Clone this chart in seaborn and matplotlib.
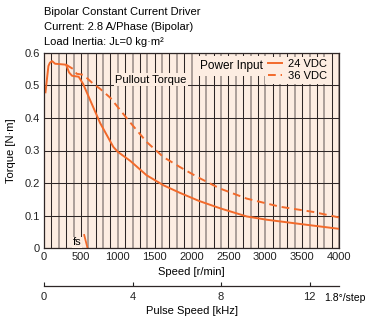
import matplotlib
matplotlib.use("Agg")
import matplotlib.pyplot as plt
import seaborn as sns
import pandas as pd
from matplotlib.ticker import MultipleLocator, FuncFormatter

# data
speed_24 = [20, 45, 60, 80, 110, 150, 300, 340, 380, 470, 530, 620, 760, 940,
            1000, 1170, 1390, 1620, 1840, 2100, 2390, 2750, 3020, 3470, 4000]
torque_24 = [0.479, 0.53, 0.56, 0.57, 0.575, 0.567, 0.564, 0.54, 0.53, 0.527, 0.505,
             0.458, 0.385, 0.311, 0.296, 0.268, 0.224, 0.193, 0.17, 0.145, 0.122,
             0.097, 0.087, 0.074, 0.059]
speed_36 = [300, 400, 443, 533, 669, 760, 900, 1166, 1393, 1618, 1844, 2092,
            2386, 2749, 3200, 3650, 4000]
torque_36 = [0.564, 0.55, 0.536, 0.533, 0.505, 0.49, 0.462, 0.387, 0.326, 0.28,
             0.249, 0.217, 0.183, 0.152, 0.127, 0.111, 0.094]
fs_speed = [545, 590]
fs_torque = [0.04, 0.0]
pulse_ticks = [0, 4, 8, 12]

orange = "#F26A2B"
peach = "#FDEDE2"
dark = "#2e2626"
grey = "#9d918c"

plt.rcParams['font.family'] = ['Liberation Sans Narrow', 'Liberation Sans', 'DejaVu Sans']
plt.rcParams['font.size'] = 8

fig = plt.figure(figsize=(3.66, 3.21), dpi=100)
ax = fig.add_axes([44 / 366, 73 / 321, 295 / 366, 195 / 321])
ax.set_facecolor(peach)

df24 = pd.DataFrame({"speed": speed_24, "torque": torque_24})
df36 = pd.DataFrame({"speed": speed_36, "torque": torque_36})
sns.lineplot(data=df24, x="speed", y="torque", ax=ax, color=orange, lw=1.4,
             label="24 VDC", estimator=None)
sns.lineplot(data=df36, x="speed", y="torque", ax=ax, color=orange, lw=1.4,
             label="36 VDC", estimator=None)
ax.lines[-1].set_dashes((4, 2.5))
ax.plot(fs_speed, fs_torque, color=orange, lw=1.3)

ax.set_xlim(0, 4000)
ax.set_ylim(0, 0.6)
ax.xaxis.set_major_locator(MultipleLocator(100))
ax.xaxis.set_major_formatter(FuncFormatter(lambda v, p: f"{v:.0f}" if round(v) % 500 == 0 else ""))
ax.yaxis.set_major_locator(MultipleLocator(0.1))
ax.yaxis.set_major_formatter(FuncFormatter(lambda v, p: "0" if abs(v) < 1e-9 else f"{v:.1f}"))
ax.tick_params(length=0, pad=3, labelsize=8, colors="#222")
ax.set_axisbelow(True)
ax.grid(True, color=dark, lw=0.75)
for i, gl in enumerate(ax.xaxis.get_gridlines()):
    if i % 2 == 1:
        gl.set_color(grey)
        gl.set_linewidth(1.2)
for s in ax.spines.values():
    s.set_color(dark)
    s.set_linewidth(0.9)

ax.set_xlabel("Speed [r/min]", fontsize=8, labelpad=3.5)
ax.set_ylabel("Torque [N·m]", fontsize=8, labelpad=6)

# annotations
ax.text(1450, 0.503, "Pullout Torque", ha="center", va="bottom", fontsize=8,
        bbox=dict(boxstyle="square,pad=0.15", fc=peach, ec="none"))
ax.text(450, 0.018, "fs", ha="center", va="center", fontsize=8,
        bbox=dict(boxstyle="square,pad=0.05", fc=peach, ec="none"))

leg = ax.legend(loc="upper right", bbox_to_anchor=(0.969, 0.982), frameon=True,
                fontsize=8, handlelength=1.3, handletextpad=0.5, borderpad=0.25,
                labelspacing=0.15, borderaxespad=0)
leg.get_frame().set_facecolor(peach)
leg.get_frame().set_edgecolor("none")
leg.get_frame().set_alpha(1)
leg.get_frame().set_boxstyle("square", pad=0)
ax.text(0.529, 0.933, "Power Input", transform=ax.transAxes, ha="left", va="center",
        fontsize=8.5, bbox=dict(boxstyle="square,pad=0.35", fc=peach, ec="none"))

# pulse speed axis
sec = ax.secondary_xaxis(-0.195, functions=(lambda s: s / 300, lambda k: k * 300))
sec.set_xticks(pulse_ticks)
sec.tick_params(direction="in", length=3, width=0.8, pad=4, labelsize=8, colors="#222")
sec.spines["bottom"].set_color(dark)
sec.spines["bottom"].set_linewidth(0.9)
sec.set_xlabel("Pulse Speed [kHz]", fontsize=8, labelpad=3)
ax.text(0.950, -0.255, "1.8°/step", transform=ax.transAxes, ha="left", va="center",
        fontsize=7.5, clip_on=False)

fig.text(44 / 366, 1 - 12 / 321, "Bipolar Constant Current Driver", va="center", fontsize=8)
fig.text(44 / 366, 1 - 27 / 321, "Current: 2.8 A/Phase (Bipolar)", va="center", fontsize=8)
fig.text(44 / 366, 1 - 42 / 321, "Load Inertia: Jʟ=0 kg·m²", va="center", fontsize=8)

fig.savefig("out.png", dpi=100)
